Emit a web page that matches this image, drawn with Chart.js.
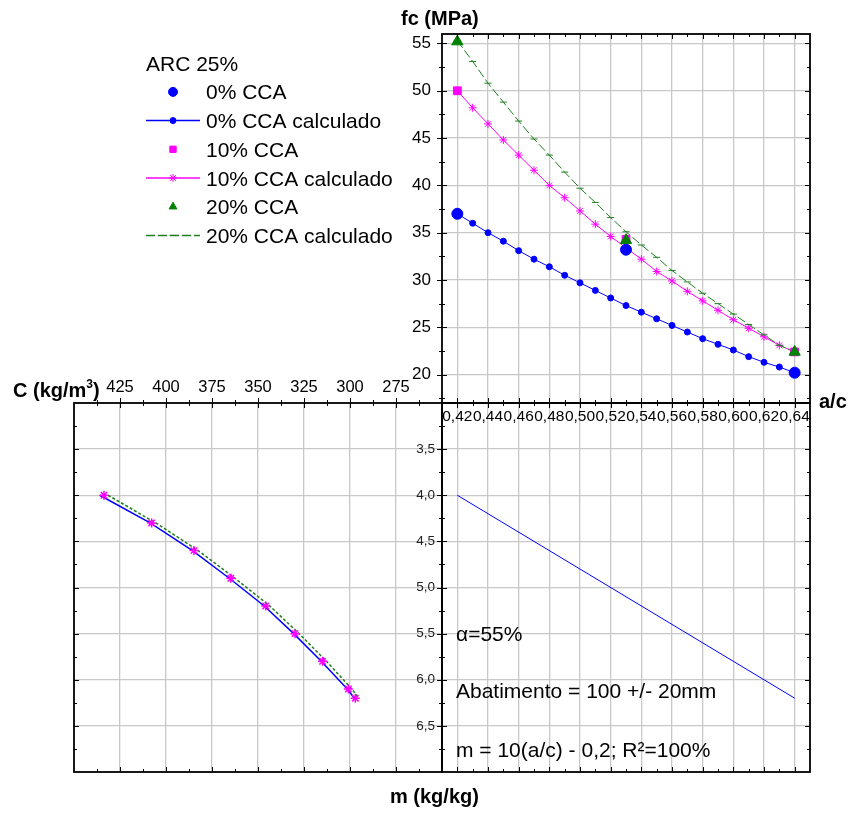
<!DOCTYPE html>
<html>
<head>
<meta charset="utf-8">
<script src="https://cdn.jsdelivr.net/npm/chart.js@4.4.0/dist/chart.umd.min.js"></script>
<style>
  body { margin: 0; background: #fff; width: 850px; height: 813px; overflow: hidden; position: relative; }
  canvas { position: absolute; left: 0; top: 0; }
  .t { position: absolute; font: 20px/20px "Liberation Sans", Arial, sans-serif; white-space: nowrap; color: #000; z-index: 5; }
  .n { font-size: 21px; }
  .b { font-weight: bold; }
  .t sup { font-size: 12px; line-height: 0; vertical-align: 9px; }
</style>
</head>
<body>
<canvas id="cChart" width="850" height="813"></canvas>
<canvas id="mChart" width="850" height="813"></canvas>
<canvas id="fcChart" width="850" height="813"></canvas>

<div class="t b" style="left:401px;top:8px">fc (MPa)</div>
<div class="t b" style="left:819px;top:391px">a/c</div>
<div class="t b" style="left:13px;top:380px">C (kg/m<sup>3</sup>)</div>
<div class="t b" style="left:390px;top:786px">m (kg/kg)</div>
<div class="t n" style="left:456px;top:624px">α=55%</div>
<div class="t n" style="left:456px;top:681px">Abatimento = 100 +/- 20mm</div>
<div class="t n" style="left:456px;top:740px">m = 10(a/c) - 0,2; R²=100%</div>

<script>
// --- top right: fc vs a/c ---
const acCalc = [0.42, 0.43, 0.44, 0.45, 0.46, 0.47, 0.48, 0.49, 0.50, 0.51, 0.52, 0.53,
                0.54, 0.55, 0.56, 0.57, 0.58, 0.59, 0.60, 0.61, 0.62, 0.63, 0.64];
const fc0Calc = [37.0, 36.0, 35.0, 34.1, 33.1, 32.2, 31.4, 30.5, 29.7, 28.9, 28.1, 27.3,
                 26.6, 25.9, 25.2, 24.5, 23.8, 23.2, 22.6, 21.9, 21.3, 20.8, 20.2];
const fc10Calc = [50.0, 48.2, 46.5, 44.8, 43.2, 41.6, 40.0, 38.7, 37.3, 35.9, 34.6, 33.4,
                  32.2, 30.9, 29.9, 28.8, 27.8, 26.8, 25.8, 24.9, 24.0, 23.1, 22.4];
const fc20Calc = [55.3, 53.1, 50.8, 48.8, 46.8, 44.9, 43.2, 41.4, 39.7, 38.2, 36.6, 35.1,
                  33.7, 32.4, 31.0, 29.8, 28.6, 27.5, 26.4, 25.3, 24.2, 23.1, 22.4];
const acMeas = [0.42, 0.53, 0.64];
const fc0Meas = [37.0, 33.2, 20.2];
const fc10Meas = [50.0, 34.3, 22.4];
const fc20Meas = [55.2, 34.2, 22.4];

// --- bottom right: m vs a/c ---
const acLine = [0.42, 0.64];
const mLine = [4.0, 6.2];

// --- bottom left: m vs C ---
const mCurve = [4.0, 4.3, 4.6, 4.9, 5.2, 5.5, 5.8, 6.1, 6.2];
const c0Curve = [436.0, 408.6, 385.6, 365.6, 346.6, 330.6, 315.6, 301.5, 297.6];
const c10Curve = [433.7, 407.8, 384.8, 364.8, 345.8, 329.9, 314.9, 300.9, 297.1];
const c20Curve = [431.5, 405.5, 382.5, 362.5, 343.6, 327.7, 312.8, 299.0, 295.2];

// tick labels
const acTicks = [0.42, 0.44, 0.46, 0.48, 0.50, 0.52, 0.54, 0.56, 0.58, 0.60, 0.62, 0.64];
const fcTicks = [20, 25, 30, 35, 40, 45, 50, 55];
const mTicks = [3.5, 4.0, 4.5, 5.0, 5.5, 6.0, 6.5];
const cTicks = [275, 300, 325, 350, 375, 400, 425];

const FONT = '"Liberation Sans", Arial, Helvetica, sans-serif';
Chart.defaults.font.family = FONT;
Chart.defaults.color = '#000';
Chart.defaults.animation = false;
Chart.defaults.plugins.legend.display = false;
Chart.defaults.plugins.tooltip.enabled = false;

const blue = '#0000ff', magenta = '#ff00ff', green = '#008000', lineGreen = '#1f801f';

const pts = (xs, ys) => xs.map((x, i) => ({ x: x, y: ys[i] }));

// major ticks from the list, minor ticks half way between
function fixTicks(major, step) {
  return scale => {
    const list = major.map(v => ({ value: v }));
    [major[0] - step / 2, ...major.map(v => v + step / 2)].forEach(v => {
      if (v > scale.min + 1e-9 && v < scale.max - 1e-9) list.push({ value: v, minor: true });
    });
    scale.ticks = list.sort((a, b) => a.value - b.value);
  };
}

const comma = d => (v, i, t) => (t[i].minor ? '' : v.toFixed(d).replace('.', ','));

const grid = {
  color: c => (c.tick && c.tick.minor ? 'rgba(0,0,0,0)' : '#c8c8c8'),
  lineWidth: 1.3,
  drawTicks: false
};

// black frame + Origin style tick marks (crossing on axis side, inward on the opposite side)
const frame = {
  id: 'frame',
  afterDraw(chart, args, opts) {
    const { ctx, chartArea: a } = chart;
    ctx.save();
    ctx.strokeStyle = '#000';
    ctx.lineWidth = 1.8;
    ctx.strokeRect(a.left, a.top, a.right - a.left, a.bottom - a.top);
    ctx.lineWidth = 1;
    ctx.beginPath();
    Object.values(chart.scales).forEach(s => {
      const cross = (opts.cross || []).includes(s.id);
      s.ticks.forEach(t => {
        const p = Math.round(s.getPixelForValue(t.value)) + 0.5;
        const len = t.minor ? 3 : 5;
        if (s.isHorizontal()) {
          const top = s.position === 'top';
          const base = top ? a.top : a.bottom, far = top ? a.bottom : a.top;
          const dir = top ? 1 : -1;
          ctx.moveTo(p, base - (cross ? dir * len : 0));
          ctx.lineTo(p, base + dir * len);
          ctx.moveTo(p, far);
          ctx.lineTo(p, far - dir * len);
        } else {
          ctx.moveTo(a.left - (cross ? len : 0), p);
          ctx.lineTo(a.left + len, p);
          ctx.moveTo(a.right, p);
          ctx.lineTo(a.right - len, p);
        }
      });
    });
    ctx.stroke();
    ctx.restore();
  }
};

// legend in the empty upper left quadrant
const legendBox = {
  id: 'legendBox',
  afterDraw(chart, args, o) {
    const { ctx } = chart;
    ctx.save();
    ctx.font = '21px ' + FONT;
    ctx.fillStyle = '#000';
    ctx.fillText(o.title, o.x, o.y);
    chart.data.datasets.forEach((d, i) => {
      const y = o.y + o.step * (i + 1);
      const cy = y - 7.5;
      if (d.showLine) {
        ctx.strokeStyle = d.borderColor;
        ctx.lineWidth = 1.5;
        ctx.setLineDash(d.borderDash || []);
        ctx.beginPath();
        ctx.moveTo(o.x, cy);
        ctx.lineTo(o.x + 54, cy);
        ctx.stroke();
        ctx.setLineDash([]);
      }
      ctx.fillStyle = d.backgroundColor;
      ctx.strokeStyle = d.borderColor;
      ctx.lineWidth = 1;
      Chart.helpers.drawPoint(ctx, {
        pointStyle: d.pointStyle, radius: Math.min(d.pointRadius, 4.5), borderWidth: 1, rotation: 0
      }, o.x + 27, cy);
      ctx.fillStyle = '#000';
      ctx.fillText(d.label, o.x + 60, y);
    });
    ctx.restore();
  }
};

// chart A: fc vs a/c, area 442..810 x 34..403
new Chart(document.getElementById('fcChart'), {
  type: 'scatter',
  data: {
    datasets: [
      { label: '0% CCA', data: pts(acMeas, fc0Meas), pointStyle: 'circle', pointRadius: 5.5,
        backgroundColor: blue, borderColor: blue, order: 2 },
      { label: '0% CCA calculado', data: pts(acCalc, fc0Calc), showLine: true, borderWidth: 1,
        pointStyle: 'circle', pointRadius: 3, backgroundColor: blue, borderColor: blue, order: 5 },
      { label: '10% CCA', data: pts(acMeas, fc10Meas), pointStyle: 'rect', pointRadius: 5.5,
        backgroundColor: magenta, borderColor: magenta, order: 1 },
      { label: '10% CCA calculado', data: pts(acCalc, fc10Calc), showLine: true, borderWidth: 1,
        pointStyle: 'star', pointRadius: 4, backgroundColor: magenta, borderColor: magenta, order: 4 },
      { label: '20% CCA', data: pts(acMeas, fc20Meas), pointStyle: 'triangle', pointRadius: 6.5,
        backgroundColor: green, borderColor: green, order: 0 },
      { label: '20% CCA calculado', data: pts(acCalc, fc20Calc), showLine: true, borderWidth: 1,
        borderDash: [9, 3], pointStyle: 'line', pointRadius: 3.5,
        backgroundColor: lineGreen, borderColor: lineGreen, order: 3 }
    ]
  },
  options: {
    responsive: false,
    layout: { padding: { left: 402, right: 40, top: 34, bottom: 380 } },
    scales: {
      x: {
        type: 'linear', position: 'bottom', min: 0.41, max: 0.65,
        afterBuildTicks: fixTicks(acTicks, 0.02),
        afterFit: s => { s.height = 30; },
        grid: grid, border: { display: false },
        ticks: { autoSkip: false, maxRotation: 0, minRotation: 0, padding: 4,
                 font: { size: 15.5 }, callback: comma(2) }
      },
      y: {
        type: 'linear', position: 'left', min: 17, max: 56,
        afterBuildTicks: fixTicks(fcTicks, 5),
        afterFit: s => { s.width = 40; },
        grid: grid, border: { display: false },
        ticks: { autoSkip: false, padding: 11, font: { size: 17 },
                 callback: (v, i, t) => (t[i].minor ? '' : String(v)) }
      }
    },
    plugins: {
      frame: { cross: ['x', 'y'] },
      legendBox: { title: 'ARC 25%', x: 146, y: 70.7, step: 28.7 }
    }
  },
  plugins: [frame, legendBox]
});

// chart B: m vs a/c, area 442..810 x 403..772
new Chart(document.getElementById('mChart'), {
  type: 'scatter',
  data: {
    datasets: [
      { label: 'm', data: pts(acLine, mLine), showLine: true, borderWidth: 1,
        pointRadius: 0, borderColor: blue, backgroundColor: blue }
    ]
  },
  options: {
    responsive: false,
    layout: { padding: { left: 402, right: 40, top: 403, bottom: 41 } },
    scales: {
      x: {
        type: 'linear', position: 'bottom', min: 0.41, max: 0.65,
        afterBuildTicks: fixTicks(acTicks, 0.02),
        afterFit: s => { s.height = 0; },
        grid: grid, border: { display: false },
        ticks: { display: false }
      },
      y: {
        type: 'linear', position: 'left', min: 3, max: 7, reverse: true,
        afterBuildTicks: fixTicks(mTicks, 0.5),
        afterFit: s => { s.width = 40; },
        grid: grid, border: { display: false },
        ticks: { autoSkip: false, padding: 7, font: { size: 13.5 }, color: '#222', callback: comma(1) }
      }
    },
    plugins: { frame: { cross: ['y'] } }
  },
  plugins: [frame]
});

// chart C: m vs C, area 74..442 x 403..772
new Chart(document.getElementById('cChart'), {
  type: 'scatter',
  data: {
    datasets: [
      { label: '0% CCA', data: pts(c0Curve, mCurve), showLine: true, borderWidth: 1.5,
        pointRadius: 0, borderColor: blue, backgroundColor: blue, order: 2 },
      { label: '10% CCA', data: pts(c10Curve, mCurve), pointStyle: 'star', pointRadius: 4.5,
        borderWidth: 1.5, borderColor: magenta, backgroundColor: magenta, order: 0 },
      { label: '20% CCA', data: pts(c20Curve, mCurve), showLine: true, borderWidth: 1.5,
        borderDash: [3, 2], pointRadius: 0, borderColor: lineGreen, backgroundColor: lineGreen, order: 1 }
    ]
  },
  options: {
    responsive: false,
    layout: { padding: { left: 74, right: 408, top: 373, bottom: 41 } },
    scales: {
      x: {
        type: 'linear', position: 'top', min: 250, max: 450, reverse: true,
        afterBuildTicks: fixTicks(cTicks, 25),
        afterFit: s => { s.height = 30; },
        grid: grid, border: { display: false },
        ticks: { autoSkip: false, maxRotation: 0, minRotation: 0, padding: 6, font: { size: 16.5 },
                 callback: (v, i, t) => (t[i].minor ? '' : String(v)) }
      },
      y: {
        type: 'linear', position: 'left', min: 3, max: 7, reverse: true,
        afterBuildTicks: fixTicks(mTicks, 0.5),
        afterFit: s => { s.width = 0; },
        grid: grid, border: { display: false },
        ticks: { display: false }
      }
    },
    plugins: { frame: { cross: ['x'] } }
  },
  plugins: [frame]
});
</script>
</body>
</html>
